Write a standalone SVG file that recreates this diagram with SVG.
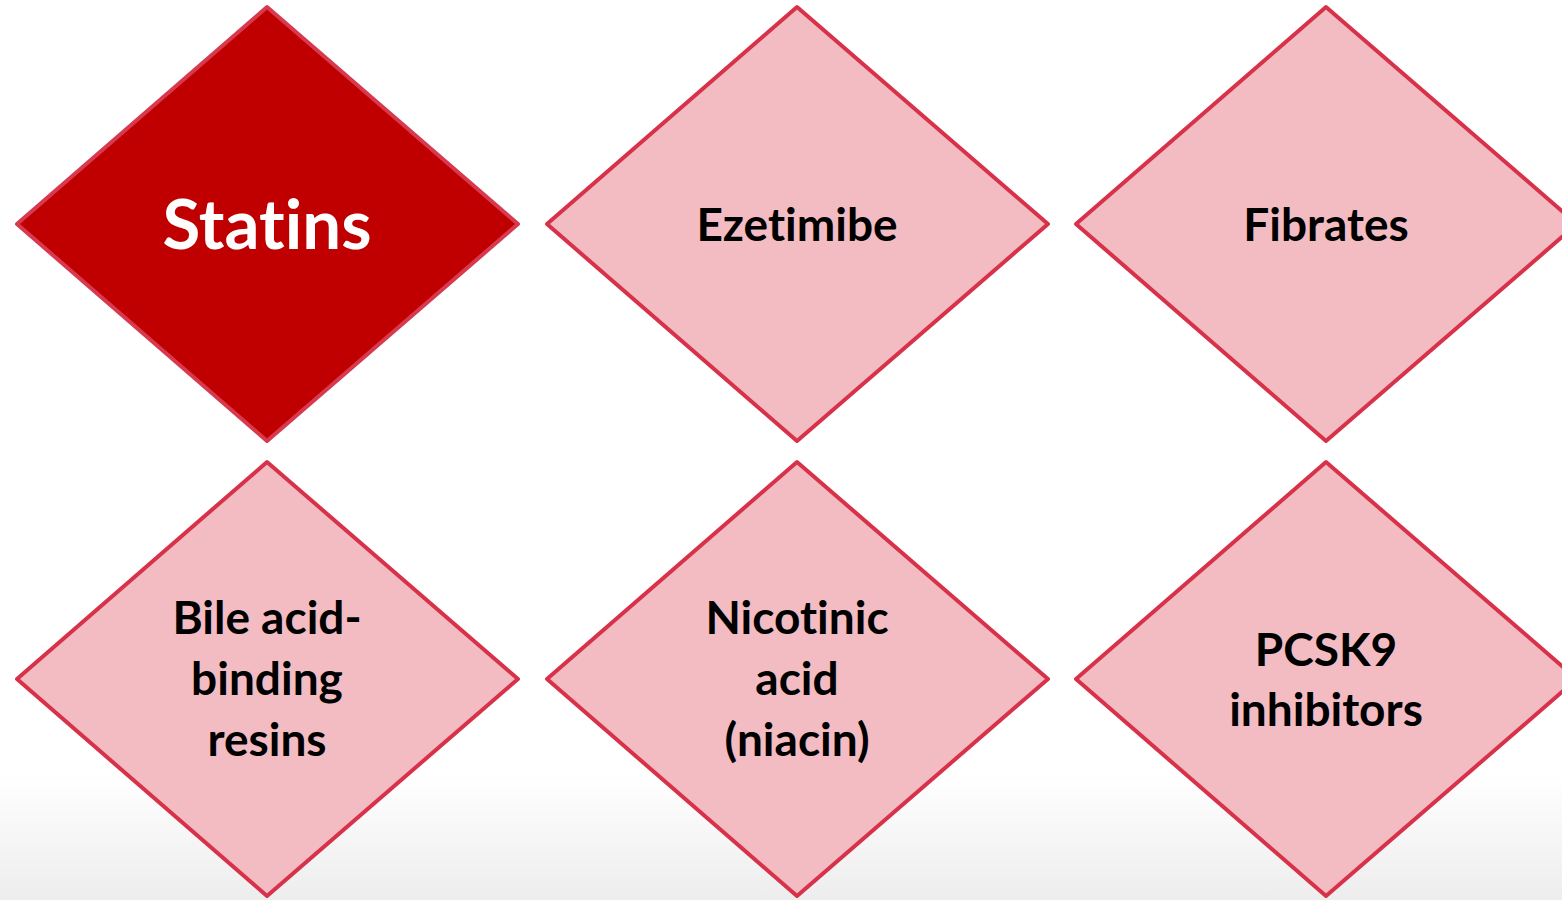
<svg xmlns="http://www.w3.org/2000/svg" width="1562" height="900" viewBox="0 0 1562 900">
<defs>
<linearGradient id="bg" x1="0" y1="0" x2="0" y2="1">
<stop offset="0" stop-color="#ffffff"/>
<stop offset="0.86" stop-color="#ffffff"/>
<stop offset="1" stop-color="#ededed"/>
</linearGradient>
<style>
.d{fill:#f2bcc2;stroke:#d7324a;stroke-width:4;stroke-linejoin:round}
.ds{fill:#c00000;stroke:#d73a4e;stroke-width:4;stroke-linejoin:round}
.t{font-family:Lato,"Open Sans","Liberation Sans",sans-serif;font-weight:bold;font-size:46px;fill:#000;text-anchor:middle;font-variant-ligatures:none;font-feature-settings:"liga" 0}
.ts{font-family:Lato,"Open Sans","Liberation Sans",sans-serif;font-weight:bold;font-size:69px;fill:#fff;text-anchor:middle;font-variant-ligatures:none;font-feature-settings:"liga" 0}
</style>
</defs>
<rect x="0" y="0" width="1562" height="900" fill="url(#bg)"/>
<g id="connectors"/>
<g id="statins">
<polygon class="ds" points="267,7 518,224 267,441 17,224"/>
<text class="ts" x="267" y="249">Statins</text>
</g>
<g id="ezetimibe">
<polygon class="d" points="797,7 1048,224 797,441 547,224"/>
<text class="t" x="797" y="241">Ezetimibe</text>
</g>
<g id="fibrates">
<polygon class="d" points="1326,7 1577,224 1326,441 1076,224"/>
<text class="t" x="1326" y="241">Fibrates</text>
</g>
<g id="bile-acid">
<polygon class="d" points="267,462 518,679 267,896 17,679"/>
<text class="t" x="267" y="634">Bile acid-</text>
<text class="t" x="267" y="695">binding</text>
<text class="t" x="267" y="756">resins</text>
</g>
<g id="nicotinic">
<polygon class="d" points="797,462 1048,679 797,896 547,679"/>
<text class="t" x="797" y="634">Nicotinic</text>
<text class="t" x="797" y="695">acid</text>
<text class="t" x="797" y="756">(niacin)</text>
</g>
<g id="pcsk9">
<polygon class="d" points="1326,462 1577,679 1326,896 1076,679"/>
<text class="t" x="1326" y="666">PCSK9</text>
<text class="t" x="1326" y="726">inhibitors</text>
</g>
</svg>
